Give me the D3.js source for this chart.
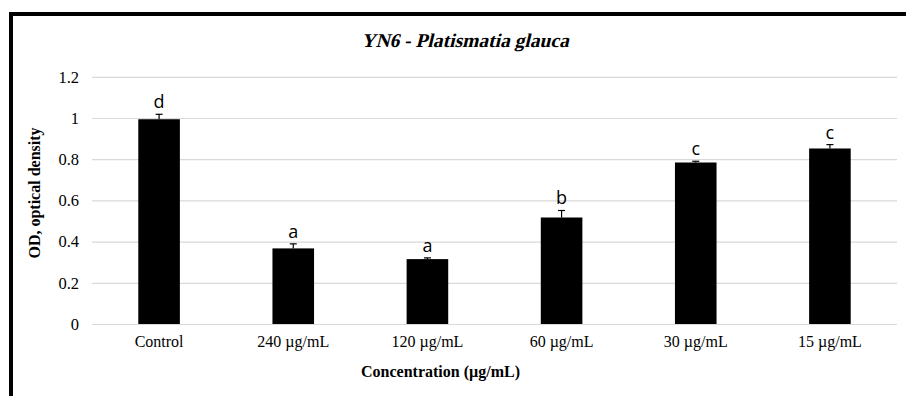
<!DOCTYPE html>
<html>
<head>
<meta charset="utf-8">
<script src="https://cdn.jsdelivr.net/npm/d3@7"></script>
<style>
  html, body { margin: 0; padding: 0; background: #fff; }
  svg { display: block; }
</style>
</head>
<body>
<svg id="chart" width="906" height="396"></svg>
<script>
const categories = ["Control", "240 µg/mL", "120 µg/mL", "60 µg/mL", "30 µg/mL", "15 µg/mL"];
const values = [0.994, 0.367, 0.315, 0.517, 0.784, 0.852];
const errors = [0.024, 0.022, 0.006, 0.034, 0.006, 0.019];
const letters = ["d", "a", "a", "b", "c", "c"];
const yTicks = [0, 0.2, 0.4, 0.6, 0.8, 1, 1.2];
const titleText = "YN6 - Platismatia glauca";
const xTitle = "Concentration (µg/mL)";
const yTitle = "OD, optical density";

const svg = d3.select("#chart");
const W = 906, H = 396;
const margin = { left: 92, right: 9, top: 76.8, bottom: 72 };
const plotW = W - margin.left - margin.right;
const plotH = H - margin.top - margin.bottom;
const serif = "'Liberation Serif', 'Times New Roman', Times, serif";

// Frame
svg.append("rect")
  .attr("x", 11).attr("y", 14)
  .attr("width", W + 20).attr("height", H + 20)
  .attr("fill", "none").attr("stroke", "#000").attr("stroke-width", 4);

const g = svg.append("g").attr("transform", `translate(${margin.left},${margin.top})`);

const x = d3.scaleBand().domain(categories).range([0, plotW]).paddingInner(0.69).paddingOuter(0.345);
const y = d3.scaleLinear().domain([0, 1.2]).range([plotH, 0]);

// Gridlines
g.append("g")
  .call(d3.axisLeft(y).tickValues(yTicks).tickSize(-plotW).tickFormat(""))
  .call(s => s.select(".domain").remove())
  .call(s => s.selectAll("line").attr("stroke", "#d9d9d9").attr("stroke-width", 1.2));

// Y axis labels
g.append("g")
  .call(d3.axisLeft(y).tickValues(yTicks).tickSize(0).tickPadding(13).tickFormat(d => d3.format("")(d)))
  .call(s => s.select(".domain").remove())
  .call(s => s.selectAll("text")
    .attr("font-family", serif)
    .attr("font-size", "16.5px").attr("fill", "#000"));

// X axis labels
g.append("g").attr("transform", `translate(0,${plotH})`)
  .call(d3.axisBottom(x).tickSize(0).tickPadding(12))
  .call(s => s.select(".domain").remove())
  .call(s => s.selectAll("text")
    .attr("font-family", serif)
    .attr("font-size", "16px").attr("fill", "#000"));

// Bars
g.selectAll("rect.bar").data(values).join("rect")
  .attr("class", "bar")
  .attr("x", (d, i) => x(categories[i]))
  .attr("y", d => y(d))
  .attr("width", x.bandwidth())
  .attr("height", d => y(0) - y(d))
  .attr("fill", "#000");

// Error bars (upper)
const eb = g.selectAll("g.err").data(values).join("g").attr("class", "err")
  .attr("transform", (d, i) => `translate(${x(categories[i]) + x.bandwidth() / 2},0)`);
eb.append("line")
  .attr("x1", 0).attr("x2", 0)
  .attr("y1", d => y(d))
  .attr("y2", (d, i) => y(d + errors[i]))
  .attr("stroke", "#000").attr("stroke-width", 1.2);
eb.append("line")
  .attr("x1", -3.5).attr("x2", 3.5)
  .attr("y1", (d, i) => y(d + errors[i]))
  .attr("y2", (d, i) => y(d + errors[i]))
  .attr("stroke", "#000").attr("stroke-width", 1.2);

// Letters
g.selectAll("text.sig").data(values).join("text")
  .attr("class", "sig")
  .attr("x", (d, i) => x(categories[i]) + x.bandwidth() / 2)
  .attr("y", (d, i) => y(d + errors[i]) - 6)
  .attr("text-anchor", "middle")
  .attr("font-family", "'Open Sans', 'Liberation Sans', Arial, sans-serif")
  .attr("font-size", "18px")
  .attr("fill", "#000")
  .text((d, i) => letters[i]);

// Title (bold serif, slanted)
svg.append("text")
  .attr("transform", "translate(465,47) skewX(-14)")
  .attr("text-anchor", "middle")
  .attr("font-family", serif)
  .attr("font-size", "19.5px").attr("font-weight", "bold")
  .text(titleText);

// X title
svg.append("text")
  .attr("x", 440.5).attr("y", 376.5)
  .attr("text-anchor", "middle")
  .attr("font-family", serif)
  .attr("font-size", "16px").attr("font-weight", "bold")
  .text(xTitle);

// Y title
svg.append("text")
  .attr("transform", "translate(40,193) rotate(-90)")
  .attr("text-anchor", "middle")
  .attr("font-family", serif)
  .attr("font-size", "16px").attr("font-weight", "bold")
  .text(yTitle);
</script>
</body>
</html>
